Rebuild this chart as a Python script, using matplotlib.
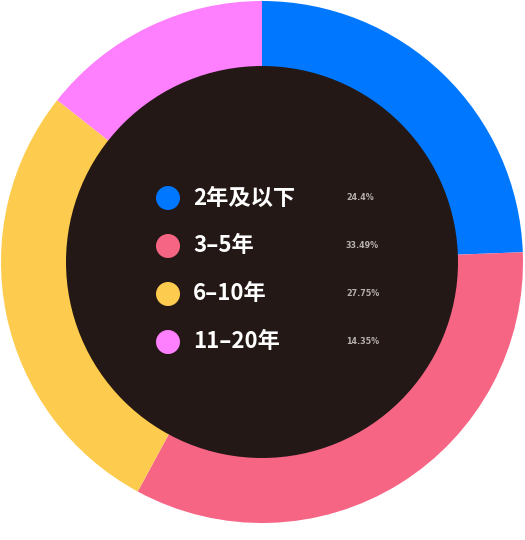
import matplotlib
matplotlib.use("Agg")
import matplotlib.pyplot as plt
from matplotlib.patches import Circle

plt.rcParams['font.family'] = ['Noto Sans CJK SC', 'DejaVu Sans']

labels = ['2年及以下', '3–5年', '6–10年', '11–20年']
values = [24.4, 33.49, 27.75, 14.35]
pct_labels = ['24.4%', '33.49%', '27.75%', '14.35%']
colors = ['#0077FF', '#F76585', '#FDCB4D', '#FF80FF']
dark = '#231815'

fig = plt.figure(figsize=(5.25, 5.4), dpi=100)
ax = fig.add_axes([0, 16 / 540, 1, 524 / 540])

R = 261.0
ax.pie(values, colors=colors, startangle=90, counterclock=False, radius=1.0,
       wedgeprops=dict(linewidth=0))
ax.add_patch(Circle((0, 0), 196 / R, color=dark, zorder=3, linewidth=0))

ax.set_xlim(-262 / R, 263 / R)
ax.set_ylim(-262 / R, 262 / R)
ax.set_aspect('auto')
ax.axis('off')

# legend inside the dark hole
row_y = [198, 246, 294, 342]
for lab, pct, col, py in zip(labels, pct_labels, colors, row_y):
    y = (262 - py) / R
    ax.add_patch(Circle(((168 - 262) / R, y), 12 / R, color=col, zorder=4, linewidth=0))
    ax.text((193 - 262) / R, y, lab, color='white', fontsize=16, fontweight='bold',
            va='center', ha='left', zorder=5)
    ax.text((346 - 262) / R, y, pct, color='#b5b0ae', fontsize=5.8, fontweight='bold',
            va='center', ha='left', zorder=5, family=['DejaVu Sans'])

fig.savefig('out.png', dpi=100, facecolor='white')
